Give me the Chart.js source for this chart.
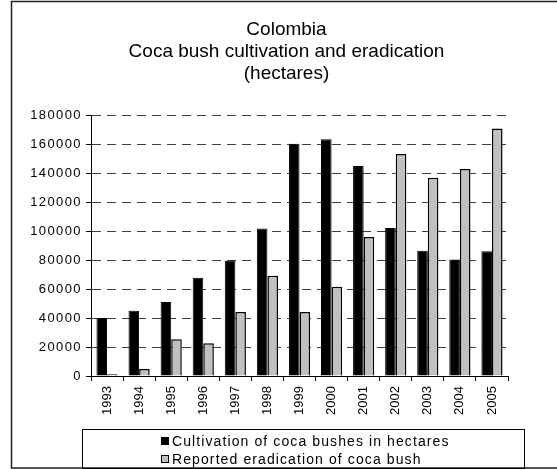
<!DOCTYPE html>
<html lang="en">
<head>
    <meta charset="UTF-8">
    <title>Colombia - Coca bush cultivation and eradication</title>
    <script src="https://cdn.jsdelivr.net/npm/chart.js@4.4.0/dist/chart.umd.min.js"></script>
    <style>
        body { margin: 0; background: #fff; }
        #wrap { width: 557px; height: 469px; }
    </style>
</head>
<body>
    <div id="wrap"><canvas id="cocaChart" width="557" height="469"></canvas></div>
    <script>
        const years = ['1993', '1994', '1995', '1996', '1997', '1998', '1999', '2000', '2001', '2002', '2003', '2004', '2005'];
        const cultivation = [40000, 45000, 51000, 67700, 79500, 101800, 160100, 163300, 144800, 102000, 86300, 80400, 86000];
        const eradication = [1200, 4900, 25400, 22600, 44100, 69200, 44100, 61600, 95900, 153100, 136800, 142800, 170700];
        const titleLines = ['Colombia', 'Coca bush cultivation and eradication', '(hectares)'];
        const seriesNames = ['Cultivation of coca bushes in hectares', 'Reported eradication of coca bush'];

        const FONT = '"Liberation Sans", Arial, sans-serif';

        // Excel export has wide letter spacing on tick and legend text
        class SpacedLinearScale extends Chart.LinearScale {
            drawLabels(chartArea) {
                const ctx = this.ctx;
                ctx.save();
                ctx.letterSpacing = '1.4px';
                super.drawLabels(chartArea);
                ctx.restore();
            }
        }
        SpacedLinearScale.id = 'spacedLinear';
        SpacedLinearScale.defaults = Chart.LinearScale.defaults;
        Chart.register(SpacedLinearScale);

        const frameAndLegend = {
            id: 'frameAndLegend',
            afterDraw(chart) {
                const ctx = chart.ctx;
                ctx.save();
                // outer frame (right side is cropped in the original)
                ctx.strokeStyle = '#222';
                ctx.lineWidth = 1.5;
                ctx.beginPath();
                ctx.moveTo(557, 1.5);
                ctx.lineTo(11.5, 1.5);
                ctx.lineTo(11.5, 468);
                ctx.lineTo(557, 468);
                ctx.stroke();

                // legend box
                ctx.lineWidth = 1;
                ctx.strokeStyle = '#000';
                ctx.strokeRect(82.5, 429.5, 442, 39);

                ctx.font = '14px ' + FONT;
                ctx.letterSpacing = '1.1px';
                ctx.textBaseline = 'middle';
                ctx.textAlign = 'left';
                const rows = [441, 459];
                chart.data.datasets.forEach((ds, i) => {
                    const y = rows[i];
                    ctx.fillStyle = ds.backgroundColor;
                    ctx.fillRect(161, y - 4, 8, 8);
                    ctx.strokeStyle = '#000';
                    ctx.lineWidth = 1;
                    ctx.strokeRect(161.5, y - 3.5, 7, 7);
                    ctx.fillStyle = '#000';
                    ctx.fillText(ds.label, 172, y + 1);
                });
                ctx.restore();
            }
        };

        new Chart(document.getElementById('cocaChart'), {
            type: 'bar',
            data: {
                labels: years,
                datasets: [
                    {
                        label: seriesNames[0],
                        data: cultivation,
                        backgroundColor: '#000000',
                        borderColor: '#000000',
                        borderWidth: 1
                    },
                    {
                        label: seriesNames[1],
                        data: eradication,
                        backgroundColor: '#c0c0c0',
                        borderColor: '#000000',
                        borderWidth: 1.5
                    }
                ]
            },
            options: {
                responsive: false,
                animation: false,
                datasets: { bar: { categoryPercentage: 0.66, barPercentage: 1.0 } },
                layout: { padding: { left: 16, right: 0, top: 0, bottom: 40 } },
                plugins: {
                    legend: { display: false },
                    tooltip: { enabled: false },
                    title: {
                        display: true,
                        text: titleLines,
                        color: '#000',
                        font: { family: FONT, size: 19, weight: 'normal', lineHeight: 22 / 19 },
                        padding: { top: 19, bottom: 30 }
                    }
                },
                scales: {
                    x: {
                        grid: { drawOnChartArea: false, drawTicks: true, tickLength: 5, color: '#000' },
                        border: { color: '#000', width: 1 },
                        ticks: {
                            color: '#000',
                            font: { family: FONT, size: 13 },
                            minRotation: 90,
                            maxRotation: 90,
                            padding: 5,
                            autoSkip: false
                        },
                        afterFit(scale) { scale.height = 53; }
                    },
                    y: {
                        type: 'spacedLinear',
                        min: 0,
                        max: 180000,
                        grid: { color: '#404040', lineWidth: 1, tickColor: '#000', tickLength: 5 },
                        border: { color: '#000', width: 1, dash: [9, 6] },
                        ticks: {
                            stepSize: 20000,
                            color: '#000',
                            font: { family: FONT, size: 13 },
                            padding: 4,
                            callback: v => String(v)
                        },
                        afterFit(scale) { scale.width = 75; }
                    },
                    // empty right-hand box: keeps the plot narrow while the title centres on the full frame
                    rightPad: {
                        type: 'linear',
                        position: 'right',
                        display: true,
                        grid: { display: false },
                        border: { display: false },
                        ticks: { display: false },
                        afterFit(scale) { scale.width = 49; }
                    }
                }
            },
            plugins: [frameAndLegend]
        });
    </script>
</body>
</html>
